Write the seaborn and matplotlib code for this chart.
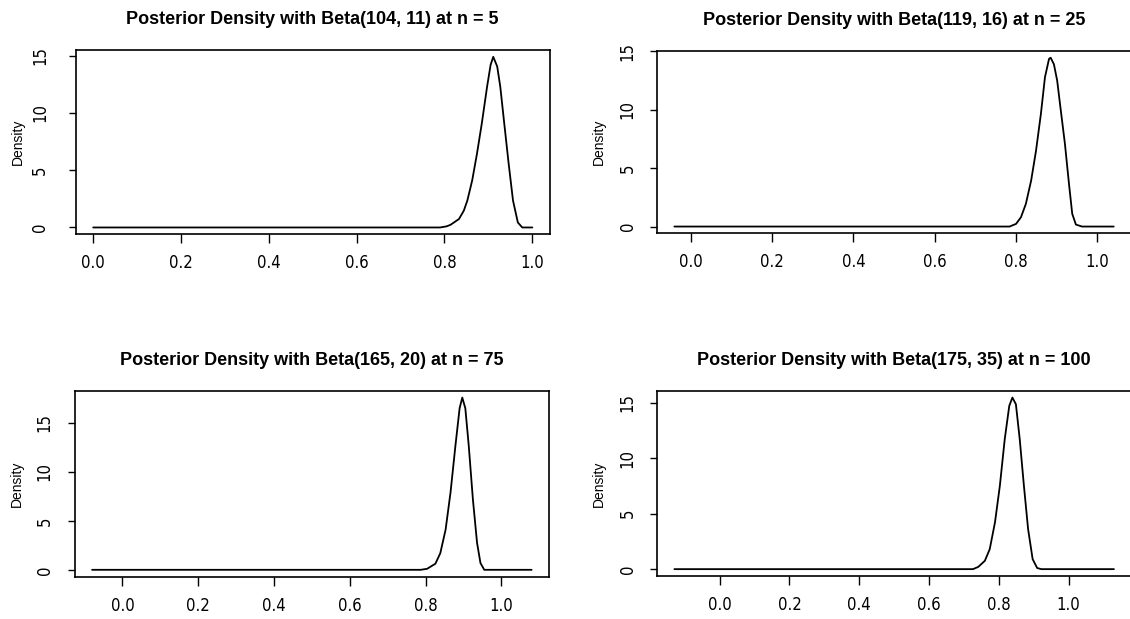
import matplotlib
matplotlib.use("Agg")
import matplotlib.pyplot as plt
from matplotlib import font_manager as fm
import seaborn as sns
import pandas as pd

# ---------------- data ----------------
titles = [
    "Posterior Density with Beta(104, 11) at n = 5",
    "Posterior Density with Beta(119, 16) at n = 25",
    "Posterior Density with Beta(165, 20) at n = 75",
    "Posterior Density with Beta(175, 35) at n = 100",
]

x_n5 = [0.00, 0.790, 0.805, 0.814, 0.833, 0.844, 0.852, 0.863, 0.874, 0.885, 0.897,
        0.905, 0.911, 0.920, 0.927, 0.936, 0.946, 0.956, 0.967, 0.977, 1.00]
d_n5 = [0.0, 0.0, 0.10, 0.24, 0.74, 1.47, 2.35, 4.1, 6.45, 9.1, 12.3,
        14.2, 14.9, 14.06, 12.3, 9.1, 5.6, 2.35, 0.44, 0.0, 0.0]

x_n25 = [-0.04, 0.784, 0.800, 0.812, 0.824, 0.837, 0.849, 0.861, 0.871, 0.881, 0.885,
         0.893, 0.901, 0.909, 0.920, 0.930, 0.938, 0.947, 0.962, 1.04]
d_n25 = [0.0, 0.0, 0.23, 0.8, 1.94, 3.94, 6.5, 9.66, 12.8, 14.37, 14.46,
         13.9, 12.5, 10.2, 7.1, 3.66, 1.09, 0.17, 0.0, 0.0]

x_n75 = [-0.08, 0.787, 0.804, 0.826, 0.839, 0.853, 0.866, 0.879, 0.890, 0.897,
         0.905, 0.914, 0.925, 0.936, 0.945, 0.955, 1.08]
d_n75 = [0.0, 0.0, 0.10, 0.62, 1.7, 4.1, 7.9, 12.7, 16.5, 17.58,
         16.5, 12.7, 7.2, 2.75, 0.69, 0.0, 0.0]

x_n100 = [-0.13, 0.726, 0.741, 0.760, 0.774, 0.789, 0.803, 0.817, 0.830, 0.839,
          0.849, 0.860, 0.872, 0.884, 0.897, 0.910, 0.922, 1.13]
d_n100 = [0.0, 0.0, 0.2, 0.75, 1.8, 4.2, 7.5, 11.7, 14.7, 15.45,
          14.85, 11.7, 7.5, 3.6, 0.9, 0.1, 0.0, 0.0]

x_ticks = [0.0, 0.2, 0.4, 0.6, 0.8, 1.0]
x_ticklabels = ["0.0", "0.2", "0.4", "0.6", "0.8", "1.0"]
y_ticks = [0, 5, 10, 15]
y_ticklabels = ["0", "5", "10", "15"]
y_label = "Density"

# ---------------- style ----------------
sns.set_style("ticks")
plt.rcParams["font.family"] = ["Liberation Sans", "DejaVu Sans"]
plt.rcParams.update({
    "text.color": "black",
    "axes.labelcolor": "black",
    "xtick.color": "black",
    "ytick.color": "black",
    "axes.edgecolor": "black",
})

# look for an installed condensed / narrow sans face for the tick labels
tick_prop = None
for f in fm.fontManager.ttflist:
    nm = f.name.lower()
    if ("narrow" in nm or "condensed" in nm or f.stretch in ("condensed", "semi-condensed")) \
            and f.weight in ("normal", 400, "regular") and f.style == "normal" \
            and "mono" not in nm and "serif" not in nm:
        tick_prop = fm.FontProperties(fname=f.fname, size=12)
        break
if tick_prop is None:
    tick_prop = fm.FontProperties(family="Liberation Sans", size=11)

W, H = 1130, 619
fig = plt.figure(figsize=(W / 100, H / 100), dpi=100)
fig.patch.set_facecolor("white")

# axes boxes in pixels: left, top, right, bottom
boxes = [(75.6, 50.0, 549.9, 234.3),
         (656.8, 51.0, 1131.3, 233.3),
         (74.5, 390.7, 549.2, 576.7),
         (656.8, 390.7, 1131.5, 576.0)]
ytick_pads = [14.0, 9.5, 10.0, 9.5]

series = [(x_n5, d_n5), (x_n25, d_n25), (x_n75, d_n75), (x_n100, d_n100)]

for i, ((xs, ds), box, title) in enumerate(zip(series, boxes, titles)):
    l, t, r, b = box
    ax = fig.add_axes([l / W, 1 - b / H, (r - l) / W, (b - t) / H])
    df = pd.DataFrame({"x": xs, "density": ds})
    sns.lineplot(data=df, x="x", y="density", ax=ax, color="black",
                 linewidth=1.3, estimator=None, sort=False)

    # R-style 4% axis extension
    xlo, xhi = min(xs), max(xs)
    ylo, yhi = min(ds), max(ds)
    ax.set_xlim(xlo - 0.04 * (xhi - xlo), xhi + 0.04 * (xhi - xlo))
    ax.set_ylim(ylo - 0.04 * (yhi - ylo), yhi + 0.04 * (yhi - ylo))

    ax.set_xticks(x_ticks)
    ax.set_xticklabels(x_ticklabels, fontproperties=tick_prop, color="black")
    ax.set_yticks(y_ticks)
    ax.set_yticklabels(y_ticklabels, fontproperties=tick_prop, rotation=90,
                       va="center", color="black")

    ax.tick_params(axis="x", direction="out", length=6.5, width=1.0, pad=8,
                   colors="black")
    ax.tick_params(axis="y", direction="out", length=5, width=1.0,
                   pad=ytick_pads[i], colors="black")

    for sp in ax.spines.values():
        sp.set_visible(True)
        sp.set_color("black")
        sp.set_linewidth(1.2)

    ax.set_xlabel("")
    ax.set_ylabel(y_label, fontsize=10, family="Liberation Sans", color="black")
    ax.yaxis.label.set_va("center")
    ax.yaxis.set_label_coords(-58.0 / (r - l), 0.5)

    ax.set_title(title, fontsize=13, fontweight="bold", pad=18.5,
                 family="Liberation Sans", color="black")
    ax.set_facecolor("white")
    ax.grid(False)

fig.savefig("out.png", dpi=100, facecolor="white")
